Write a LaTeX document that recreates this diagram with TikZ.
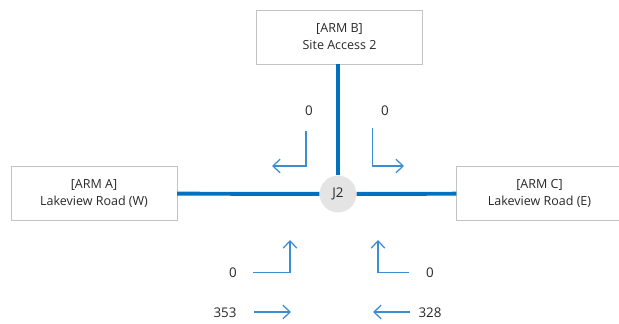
\documentclass[tikz,border=0pt]{standalone}
\usepackage{fontspec}
\setmainfont{Open Sans}
\usetikzlibrary{arrows.meta,positioning}
\definecolor{road}{RGB}{0,112,192}
\definecolor{flowblue}{RGB}{60,140,210}
\definecolor{frame}{RGB}{195,195,195}
\definecolor{hub}{RGB}{228,228,228}
\definecolor{ink}{RGB}{40,40,40}
\tikzset{
  >={Straight Barb[length=1.8mm,width=3.4mm]},
  arm/.style={draw=frame,fill=white,minimum width=41.4mm,minimum height=13.6mm,
    align=center,text=ink,font=\fontsize{8.9}{12}\selectfont},
  junction/.style={circle,fill=hub,minimum size=9.2mm,inner sep=0pt,
    text=ink,font=\fontsize{9.5}{11}\selectfont},
  road/.style={draw=road,line width=2.8pt},
  move/.style={->,draw=flowblue,line width=0.9pt},
  count/.style={text=ink,font=\fontsize{9.5}{11}\selectfont},
}
\begin{document}
\begin{tikzpicture}[x=0.25mm,y=-0.25mm]
  \useasboundingbox[fill=white] (0,0) rectangle (619,324);

  % arms and junction
  \node[arm] (armB) at (339.5,37) {[ARM B]\\Site Access 2};
  \node[arm] (armA) at (94,193.5) {[ARM A]\\Lakeview Road (W)};
  \node[arm] (armC) at (539.5,193.5) {[ARM C]\\Lakeview Road (E)};
  \node[junction] (j2) at (338,194) {J2};

  \draw[road] (armB.south -| j2) -- (j2);
  \draw[road] (armA) -- (j2);
  \draw[road] (j2) -- (armC);

  % turning counts
  \node[count] (bl) at (309,111) {0};
  \node[count] (br) at (385,111) {0};
  \node[count] (al) at (233,272.5) {0};
  \node[count] (cl) at (430,272.5) {0};
  \node[count] (at) at (225,312.5) {353};
  \node[count] (ct) at (430,312.5) {328};

  \coordinate (bl-in) at (306,131);
  \coordinate (bl-out) at (272,166);
  \coordinate (br-in) at (372.5,128);
  \coordinate (br-out) at (404,166);
  \coordinate (al-in) at (253,272.5);
  \coordinate (al-out) at (290,240);
  \coordinate (cl-in) at (409,272.5);
  \coordinate (cl-out) at (378,240);
  \coordinate (at-in) at (254,312);
  \coordinate (at-out) at (291,312);
  \coordinate (ct-in) at (410,312);
  \coordinate (ct-out) at (373,312);

  \draw[move] (bl-in) |- (bl-out);
  \draw[move] (br-in) |- (br-out);
  \draw[move] (al-in) -| (al-out);
  \draw[move] (cl-in) -| (cl-out);
  \draw[move] (at-in) -- (at-out);
  \draw[move] (ct-in) -- (ct-out);
\end{tikzpicture}
\end{document}
